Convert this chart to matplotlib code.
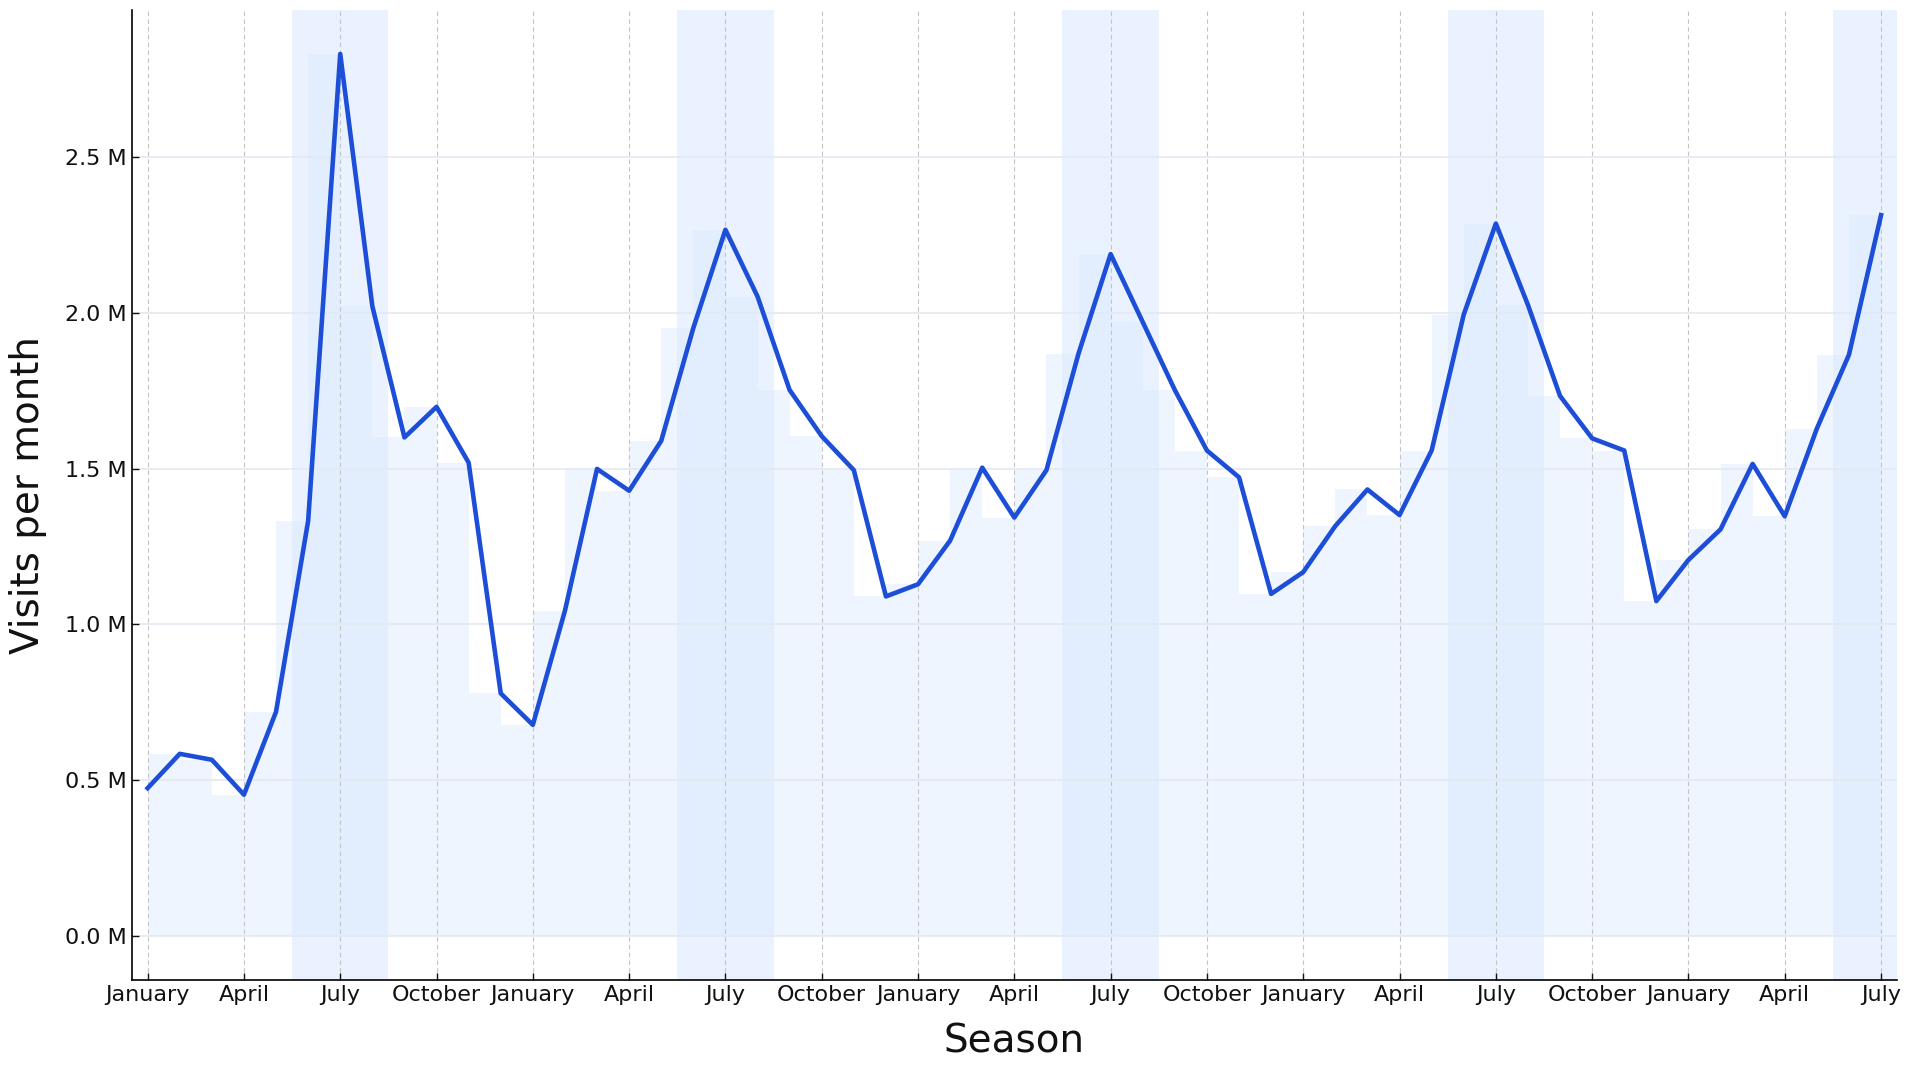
import numpy as np
import matplotlib
matplotlib.use("Agg")
import matplotlib.pyplot as plt
from matplotlib.ticker import FuncFormatter

# monthly visits (millions), January year 1 .. July year 5
visits = [0.475, 0.585, 0.566, 0.454, 0.72, 1.332, 2.830, 2.021, 1.600, 1.698, 1.519, 0.779,
          0.678, 1.044, 1.499, 1.429, 1.589, 1.951, 2.266, 2.052, 1.752, 1.604, 1.495, 1.090,
          1.129, 1.269, 1.503, 1.343, 1.495, 1.869, 2.188, 1.970, 1.752, 1.558, 1.472, 1.098,
          1.168, 1.316, 1.433, 1.351, 1.558, 1.994, 2.286, 2.025, 1.733, 1.597, 1.558, 1.075,
          1.207, 1.305, 1.515, 1.347, 1.628, 1.865, 2.313]
month_names = ["January", "February", "March", "April", "May", "June", "July",
               "August", "September", "October", "November", "December"]
summer_months = [5, 6, 7]  # June, July, August

x = np.arange(len(visits))
y = np.array(visits)

fig = plt.figure(figsize=(19.07, 10.70), dpi=100)
ax = fig.add_axes([0.069, 0.0838, 0.9258, 0.907])

ax.fill_between(x, 0, y, step="pre", color="#3b82f6", alpha=0.08, lw=0, zorder=1)

# summer shading, drawn over the step fill
for i in x:
    if i % 12 == 6:
        ax.axvspan(i - 1.5, i + 1.5, color="#dbeafe", alpha=0.61, lw=0, zorder=1.5)

ax.plot(x, y, color="#1d4ed8", lw=3.3, zorder=3)

ax.set_xlim(-0.5, 54.5)
ax.margins(y=0.05)

ticks = x[::3]
ax.set_xticks(ticks)
ax.set_xticklabels([month_names[t % 12] for t in ticks])
ax.set_yticks([0, 0.5, 1.0, 1.5, 2.0, 2.5])
ax.yaxis.set_major_formatter(FuncFormatter(lambda v, p: f"{v:.1f} M"))

ax.tick_params(direction="in", length=5, width=1, labelsize=16, colors="#111111")
ax.grid(axis="x", color="#c4c4c4", linestyle=(0, (4, 3)), lw=0.8, zorder=2)
ax.grid(axis="y", color="#e3e8f0", linestyle="-", lw=1.2, zorder=2)
ax.set_axisbelow(False)

for s in ["top", "right"]:
    ax.spines[s].set_visible(False)
for s in ["left", "bottom"]:
    ax.spines[s].set_linewidth(1.2)
    ax.spines[s].set_zorder(4)

ax.set_xlabel("Season", fontsize=28, color="#111111")
ax.set_ylabel("Visits per month", fontsize=28, color="#111111")
ax.xaxis.set_label_coords(0.5, -0.043)
ax.yaxis.set_label_coords(-0.048, 0.5)

fig.savefig("out.png", dpi=100)
